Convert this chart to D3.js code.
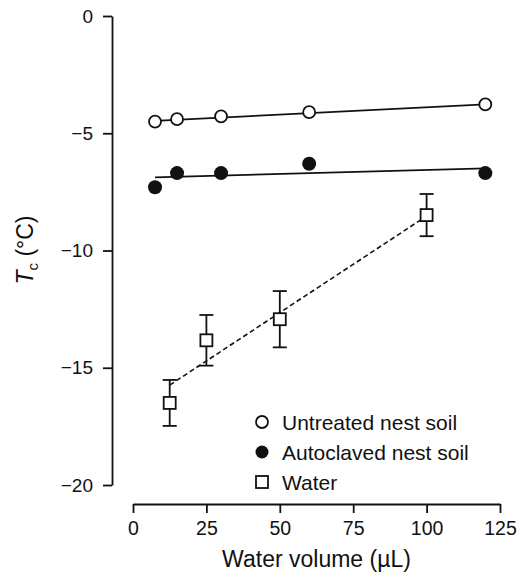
<!DOCTYPE html>
<html>
<head>
<meta charset="utf-8">
<script src="https://cdn.jsdelivr.net/npm/d3@7"></script>
<style>
  body { margin: 0; background: #fff; }
  svg text { font-family: "Liberation Sans", Arial, Helvetica, sans-serif; fill: #111; }
</style>
</head>
<body>
<div class="chart"></div>
<script>
// data
const soilVolume = [7.5, 15, 30, 60, 120]
const untreated = [-4.5, -4.4, -4.28, -4.1, -3.77]
const autoclaved = [-7.3, -6.7, -6.7, -6.3, -6.7]
const waterVolume = [12.5, 25, 50, 100]
const water = [-16.5, -13.83, -12.93, -8.49]
const waterErr = [0.98, 1.08, 1.2, 0.9]

// fitted lines (end points)
const untreatedFit = [[7.5, -4.47], [120, -3.77]]
const autoclavedFit = [[7.5, -6.88], [120, -6.5]]
const waterFit = [[12.5, -15.74], [100, -8.53]]

const xTicks = [0, 25, 50, 75, 100, 125]
const yTicks = [0, -5, -10, -15, -20]
const legendLabels = ['Untreated nest soil', 'Autoclaved nest soil', 'Water']

const width = 524
const height = 575

const svg = d3.select('.chart')
    .append('svg')
    .attr('width', width)
    .attr('height', height)

const x = d3.scaleLinear().domain([0, 125]).range([133, 500])
const y = d3.scaleLinear().domain([-20, 0]).range([485, 16])

// x axis, detached below the plot
const xAxisG = svg.append('g').attr('transform', 'translate(0,504)')
xAxisG.call(d3.axisBottom(x).tickValues(d3.range(0, 126, 5)).tickFormat('').tickSize(5).tickSizeOuter(0))
xAxisG.call(d3.axisBottom(x).tickValues(xTicks).tickSize(9).tickSizeOuter(0).tickPadding(8))
xAxisG.selectAll('path, line').attr('stroke', '#111').attr('stroke-width', 1.8)
xAxisG.selectAll('text').style('font-size', '19.5px')

// y axis, detached on the left
const yAxisG = svg.append('g').attr('transform', 'translate(112,0)')
yAxisG.call(d3.axisLeft(y).tickValues(d3.range(-20, 1, 1)).tickFormat('').tickSize(5).tickSizeOuter(0))
yAxisG.call(d3.axisLeft(y).tickValues(yTicks).tickSize(9).tickSizeOuter(0).tickPadding(10))
yAxisG.selectAll('path, line').attr('stroke', '#111').attr('stroke-width', 1.8)
yAxisG.selectAll('text').style('font-size', '19px')

// axis titles
svg.append('text')
    .attr('x', x(62.5))
    .attr('y', 567)
    .attr('text-anchor', 'middle')
    .style('font-size', '23px')
    .text('Water volume (\u00b5L)')

const yTitle = svg.append('text')
    .attr('transform', 'translate(33,250) rotate(-90)')
    .attr('text-anchor', 'middle')
    .style('font-size', '23px')
yTitle.append('tspan').style('font-style', 'italic').text('T')
yTitle.append('tspan').attr('dy', 5).style('font-size', '15px').text('c')
yTitle.append('tspan').attr('dy', -5).text(' (\u00b0C)')

const line = d3.line().x(d => x(d[0])).y(d => y(d[1]))

// fit lines
svg.append('path').attr('d', line(untreatedFit))
    .attr('fill', 'none').attr('stroke', '#111').attr('stroke-width', 1.8)
svg.append('path').attr('d', line(autoclavedFit))
    .attr('fill', 'none').attr('stroke', '#111').attr('stroke-width', 1.8)
svg.append('path').attr('d', line(waterFit))
    .attr('fill', 'none').attr('stroke', '#111').attr('stroke-width', 1.6)
    .attr('stroke-dasharray', '5,3')

// untreated soil, open circles
svg.append('g').selectAll('circle')
    .data(soilVolume.map((v, i) => [v, untreated[i]]))
    .enter()
    .append('circle')
    .attr('cx', d => x(d[0]))
    .attr('cy', d => y(d[1]))
    .attr('r', 6)
    .attr('fill', '#fff')
    .attr('stroke', '#111')
    .attr('stroke-width', 1.8)

// autoclaved soil, filled circles
svg.append('g').selectAll('circle')
    .data(soilVolume.map((v, i) => [v, autoclaved[i]]))
    .enter()
    .append('circle')
    .attr('cx', d => x(d[0]))
    .attr('cy', d => y(d[1]))
    .attr('r', 7)
    .attr('fill', '#111')

// water, squares with error bars
const waterData = waterVolume.map((v, i) => ({ v: v, t: water[i], e: waterErr[i] }))
const errG = svg.append('g').attr('stroke', '#111').attr('stroke-width', 1.8)
waterData.forEach(d => {
    const cx = x(d.v)
    errG.append('line').attr('x1', cx).attr('x2', cx).attr('y1', y(d.t + d.e)).attr('y2', y(d.t - d.e))
    errG.append('line').attr('x1', cx - 7).attr('x2', cx + 7).attr('y1', y(d.t + d.e)).attr('y2', y(d.t + d.e))
    errG.append('line').attr('x1', cx - 7).attr('x2', cx + 7).attr('y1', y(d.t - d.e)).attr('y2', y(d.t - d.e))
})
svg.append('g').selectAll('rect')
    .data(waterData)
    .enter()
    .append('rect')
    .attr('x', d => x(d.v) - 6)
    .attr('y', d => y(d.t) - 6)
    .attr('width', 12)
    .attr('height', 12)
    .attr('fill', '#fff')
    .attr('stroke', '#111')
    .attr('stroke-width', 1.8)

// legend
const legend = svg.append('g').attr('transform', 'translate(262,422)')
legendLabels.forEach((label, i) => {
    const row = legend.append('g').attr('transform', `translate(0,${i * 30})`)
    if (i === 0) {
        row.append('circle').attr('r', 6).attr('fill', '#fff').attr('stroke', '#111').attr('stroke-width', 1.8)
    } else if (i === 1) {
        row.append('circle').attr('r', 6.5).attr('fill', '#111')
    } else {
        row.append('rect').attr('x', -6).attr('y', -6).attr('width', 12).attr('height', 12)
            .attr('fill', '#fff').attr('stroke', '#111').attr('stroke-width', 1.8)
    }
    row.append('text')
        .attr('x', 20)
        .attr('y', 7.5)
        .style('font-size', '21px')
        .text(label)
})
</script>
</body>
</html>
